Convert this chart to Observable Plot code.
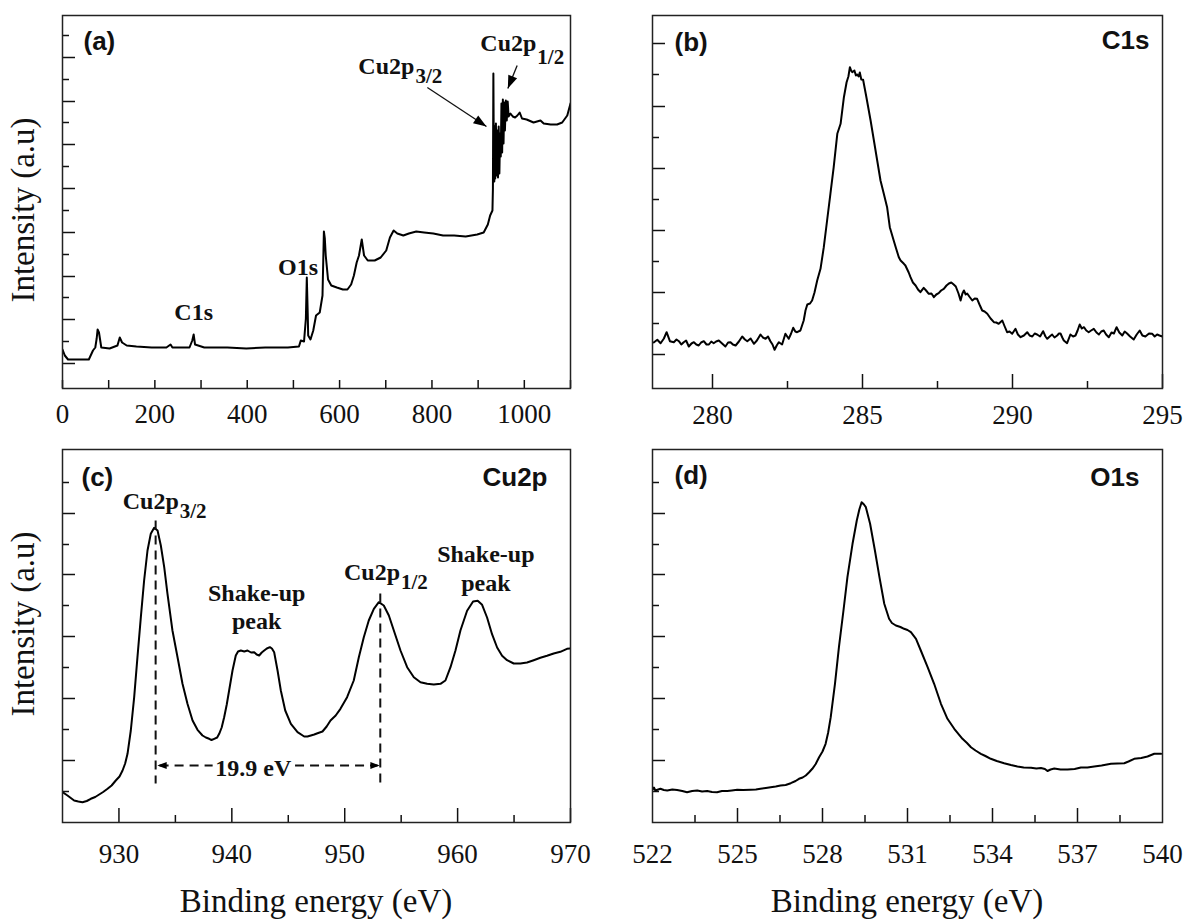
<!DOCTYPE html>
<html>
<head>
<meta charset="utf-8">
<script src="https://cdn.jsdelivr.net/npm/d3@7"></script>
<script src="https://cdn.jsdelivr.net/npm/@observablehq/plot@0.6"></script>
<style>
  html, body { margin: 0; padding: 0; background: #fff; }
  #root { position: relative; width: 1188px; height: 923px; overflow: hidden; background: #fff; }
  .panel { position: absolute; }
  .title { position: absolute; font-family: "Liberation Serif", "Times New Roman", Times, serif; font-size: 33px; line-height: 1; white-space: nowrap; color: #111; }
</style>
</head>
<body>
<div id="root"></div>
<script>
// ================= DATA =================
// Intensity is in arbitrary units (a.u.)

// (a) survey spectrum: [binding energy eV, intensity]
const surveySpectrum = [
  [0,39],[5,33],[12,29],[57,29],[66,38],[71,41],[74,50],[76,59],[79,56],[84,41],[102,40],[119,43],[124,51],[129,46],
  [139,43],[160,42],[193,41],[225,41],[234,44],[238,41],[275,41],[281,48],[284,54],[287,44],[307,41],[357,41],[398,40],
  [439,41],[488,41],[512,42],[516,48],[523,47],[527,70],[529,111],[531,75],[532,53],[537,49],[543,58],[549,73],[557,76],
  [563,93],[566,157],[568,150],[570,133],[575,109],[582,103],[594,101],[607,99],[617,99],[625,104],[631,113],[637,126],
  [642,133],[648,149],[653,133],[661,128],[676,128],[689,131],[701,138],[709,151],[717,158],[725,155],[738,153],[750,155],
  [766,157],[783,156],[803,155],[824,153],[848,153],[873,152],[898,154],[912,156],[921,164],[926,173],[931,178],[932,200],
  [933,315],[934,230],[935,207],[936,262],[937,210],[938.5,265],[940,213],[941.5,258],[943,211],[944.5,262],[946,215],
  [947.5,255],[949,232],[950.5,285],[952,236],[953.5,289],[955,245],[956.5,286],[958,258],[960,288],[962,268],[964,287],
  [966,272],[970,275],[975,272],[980,271],[985,273],[990,276],[995,270],[1005,269],[1020,266],[1035,268],[1042,265],
  [1057,264],[1071,264],[1082,266],[1093,273],[1100,285]
];

// (b) C1s spectrum
const c1sSpectrum = [
  [278.04,46],[278.16,48.7],[278.27,45.3],[278.38,50],[278.47,56.3],[278.58,47.3],[278.71,46.3],[278.80,49],[278.88,47.3],
  [278.96,44],[279.04,46.3],[279.12,48],[279.21,42],[279.30,45],[279.38,46.3],[279.46,44],[279.54,43],[279.62,46],
  [279.71,47.3],[279.80,44],[279.88,44],[279.96,47],[280.04,45.3],[280.12,47],[280.21,48],[280.32,45],[280.43,42],
  [280.52,46],[280.60,46.3],[280.68,44],[280.77,43],[280.88,47],[280.99,52],[281.08,49],[281.16,47.3],[281.27,50],
  [281.38,44.7],[281.48,48],[281.60,54],[281.68,51],[281.77,49.7],[281.85,52],[281.93,47.3],[282.00,44],[282.07,38.7],
  [282.14,43],[282.21,46.3],[282.32,44],[282.43,54.7],[282.54,49.7],[282.62,55],[282.69,60.7],[282.76,57],[282.82,56.3],
  [282.93,58],[283.04,68],[283.10,78],[283.16,84],[283.25,85],[283.32,88],[283.40,96],[283.49,108],[283.60,119.7],
  [283.71,141.3],[283.82,168],[283.93,194.7],[284.04,221.3],[284.16,254.7],[284.27,264.7],[284.38,291.3],[284.47,306.3],
  [284.53,312],[284.58,321.3],[284.62,318],[284.66,316.3],[284.73,318],[284.78,313],[284.82,314],[284.87,312],[284.91,316],
  [284.96,309],[285.02,308.7],[285.13,291.3],[285.27,268],[285.38,248],[285.49,228],[285.60,208],[285.71,194.7],
  [285.82,181.3],[285.91,161.3],[286.04,148],[286.12,140],[286.21,131.3],[286.27,128],[286.38,124.7],[286.43,123],
  [286.54,116],[286.60,111.3],[286.68,106],[286.77,103],[286.85,99],[286.93,96.3],[287.04,100.7],[287.12,98],[287.21,94.7],
  [287.30,95],[287.38,91.3],[287.46,94],[287.54,95.3],[287.62,98],[287.71,99.7],[287.80,103],[287.88,105],[287.96,106],
  [288.04,104],[288.11,102],[288.20,95],[288.27,88],[288.33,95],[288.38,98],[288.44,94],[288.49,95],[288.56,92],[288.66,88],
  [288.74,90],[288.82,89.7],[288.90,84],[288.99,78],[289.07,77],[289.16,74.7],[289.27,70],[289.38,66.3],[289.46,66],
  [289.54,64.7],[289.66,68],[289.74,62],[289.82,56.3],[289.90,57],[289.99,54.7],[290.10,59.7],[290.18,54],[290.27,51.3],
  [290.38,53],[290.49,56.3],[290.57,53],[290.66,52],[290.74,55],[290.82,54],[290.92,52],[291.02,57.3],[291.10,52],
  [291.16,49.7],[291.24,52],[291.32,54],[291.40,51],[291.49,53],[291.55,55],[291.60,55],[291.66,51],[291.71,48],
  [291.82,45.3],[291.93,54],[292.02,52],[292.10,53],[292.17,58],[292.24,64],[292.31,60],[292.38,61.3],[292.46,58],
  [292.54,56.3],[292.62,58],[292.71,59.7],[292.80,56],[292.88,54],[292.96,57],[293.04,58],[293.12,54],[293.21,51.3],
  [293.30,56],[293.38,55],[293.47,61.3],[293.56,56],[293.66,53],[293.74,57],[293.82,55],[293.92,52],[294.04,49],
  [294.14,54],[294.24,58],[294.33,53],[294.43,52],[294.55,55],[294.66,54.7],[294.74,52],[294.82,54],[294.90,53],[295.00,52]
];

// (c) Cu2p spectrum
const cu2pSpectrum = [
  [925.00,30.3],[925.44,27],[926.03,22],[926.40,21],[926.77,20.3],[927.15,21.5],[927.51,23.7],[927.90,25.5],[928.25,28],
  [928.60,30.5],[928.99,33.7],[929.35,37],[929.72,42],[930.05,46],[930.32,52],[930.55,59],[930.76,68.7],[931.05,92],
  [931.35,125.3],[931.64,165.3],[931.94,205.3],[932.23,242],[932.53,272],[932.82,288.7],[933.12,294.7],[933.42,292],
  [933.71,277],[934.01,255.3],[934.30,228.7],[934.74,192],[935.19,165.3],[935.63,138.7],[936.07,118.7],[936.52,102],
  [936.96,92.7],[937.40,87],[937.70,85],[937.99,83.7],[938.20,82.5],[938.44,83.7],[938.70,85],[938.88,88.7],[939.10,95],
  [939.32,105.3],[939.55,118],[939.76,132],[940.06,152],[940.35,167],[940.55,171],[940.80,172],[941.10,171],[941.39,172],
  [941.70,170],[941.98,170.3],[942.20,168],[942.42,167],[942.65,170],[942.87,172],[943.10,174],[943.37,175.3],[943.55,174],
  [943.75,170.3],[944.05,152],[944.34,132],[944.73,112],[945.23,98.7],[945.82,90.3],[946.41,86],[946.70,86],[947.00,87],
  [947.30,88],[947.59,89.3],[948.03,91],[948.40,96],[948.74,102],[949.20,107],[949.62,113.7],[950.21,125.3],[950.80,142],
  [951.25,165.3],[951.69,185.3],[952.13,202],[952.58,213.7],[953.02,220.3],[953.46,217],[953.91,207],[954.35,192],
  [954.94,172],[955.53,155.3],[956.12,145.3],[956.71,140.3],[957.30,138.7],[957.89,138],[958.48,138.7],[958.92,142],
  [959.37,155.3],[959.81,172],[960.25,192],[960.84,211.7],[961.37,221],[961.78,221.7],[962.17,217.7],[962.61,205],
  [963.05,188.3],[963.50,175],[963.94,166.7],[964.38,162.3],[964.97,159],[965.56,159],[966.15,160],[966.74,162.3],
  [967.33,164.7],[967.92,166.7],[968.51,169],[969.10,170.7],[969.69,173.7],[970.00,174]
];

// (d) O1s spectrum
const o1sSpectrum = [
  [522.00,32.7],[522.05,35],[522.10,32],[522.28,33.7],[522.40,32.5],[522.52,32],[522.70,33],[522.87,32.5],[523.05,31.5],
  [523.22,30.3],[523.40,31.5],[523.58,32],[523.75,31],[523.93,31.5],[524.10,30.5],[524.28,30.3],[524.45,31.5],[524.64,31.5],
  [524.80,32],[524.99,32.7],[525.20,32.5],[525.46,32.8],[525.65,33],[525.81,33.7],[526.00,34.5],[526.17,35.3],[526.35,36],
  [526.52,37],[526.70,37.5],[526.88,39.3],[527.05,41.5],[527.17,43.7],[527.30,45],[527.41,47],[527.52,50],[527.64,53.7],
  [527.76,58.5],[527.88,65.3],[528.00,71],[528.11,78.7],[528.20,90],[528.29,105.3],[528.44,138.7],[528.58,175.3],
  [528.74,212],[528.88,245.3],[529.06,278.7],[529.21,302],[529.30,313],[529.38,320.3],[529.45,318.5],[529.53,315.3],
  [529.68,298.7],[529.85,272],[530.01,245.3],[530.18,218.7],[530.35,203.7],[530.45,199.5],[530.59,197],[530.75,195.5],
  [530.88,193.7],[531.00,192.5],[531.12,190.3],[531.30,183.7],[531.47,172],[531.71,155.3],[531.94,138.7],[532.18,118.7],
  [532.41,103.7],[532.65,93.7],[532.94,83.7],[533.10,79.5],[533.24,75.3],[533.40,72],[533.59,68.7],[533.75,66.5],
  [533.94,63.7],[534.15,61.5],[534.41,59.3],[534.65,57.5],[534.88,56],[535.10,55],[535.36,54.7],[535.55,54],[535.71,54.5],
  [535.85,53.5],[535.94,51.5],[536.05,53],[536.18,54],[536.40,53],[536.65,53],[536.90,53.5],[537.12,55],[537.35,55],
  [537.59,56],[537.85,57],[538.18,58.7],[538.40,59],[538.65,59.3],[538.80,61],[539.00,63.7],[539.25,64.5],[539.47,66],
  [539.71,68.7],[539.95,68.7]
];

// Axis domains
const surveyDomain = [0, 1100];
const c1sDomain = [278, 295];
const cu2pDomain = [925, 970];
const o1sDomain = [522, 540];
const intensityDomain = [0, 373];

// Tick values
const surveyXLabels = [0, 200, 400, 600, 800, 1000];
const surveyXMinor = [100, 300, 500, 700, 900, 1100];
const c1sXLabels = [280, 285, 290, 295];
const c1sXMinor = [282.5, 287.5, 292.5];
const cu2pXLabels = [930, 940, 950, 960, 970];
const cu2pXMinor = [935, 945, 955, 965];
const o1sXLabels = [522, 525, 528, 531, 534, 537, 540];
const o1sXMajor = [525, 528, 531, 534, 537];
const o1sXMinor = [523.5, 526.5, 529.5, 532.5, 535.5, 538.5];

const surveyYMajor = [25, 69, 112, 156, 200, 244, 287, 331];
const surveyYMinor = [47, 91, 134, 178, 222, 266, 309, 353];
const c1sYMajor = [34, 96, 158, 220, 282, 345];
const c1sYMinor = [65, 127, 189, 251, 314];
const bottomYMajor = [62, 124, 186, 248, 309];
const bottomYMinor = [31, 93, 155, 217, 278, 340];

// Annotations
const panelLetters = ["(a)", "(b)", "(c)", "(d)"];
const panelNames = ["C1s", "Cu2p", "O1s"];
const surveyPeakLabels = [
  {eV: 284, a: 69, label: "C1s"},
  {eV: 510, a: 114, label: "O1s"}
];
const surveyCuLabels = [
  {eV: 762, a: 315, main: "Cu2p", sub: "3/2", subA: 306},
  {eV: 1026, a: 338, main: "Cu2p", sub: "1/2", subA: 325}
];
const surveyArrows = [
  {x1: 790, y1: 301, x2: 918, y2: 262},
  {x1: 984.5, y1: 323, x2: 964.3, y2: 300}
];
const cu2pPeakLabels = [
  {eV: 935.3, a: 314, main: "Cu2p", sub: "3/2", subA: 305},
  {eV: 954.9, a: 243, main: "Cu2p", sub: "1/2", subA: 234}
];
const shakeUpLabels = [
  {eV: 942.2, a: 222, label: "Shake-up"},
  {eV: 942.2, a: 194, label: "peak"},
  {eV: 962.5, a: 261, label: "Shake-up"},
  {eV: 962.5, a: 232, label: "peak"}
];
const cu2pGuides = [
  {eV: 933.25, top: 302, bottom: 39},
  {eV: 953.15, top: 229, bottom: 34}
];
const splitLevel = 57;
const splitSegments = [{from: 933.6, to: 938.3}, {from: 945.6, to: 952.9}];
const splitTips = [{eV: 933.4, dir: -90}, {eV: 953.1, dir: 90}];
const splitLabel = [{eV: 941.9, a: 47, label: "19.9 eV"}];

// ================= DRAWING =================
const SERIF = '"Liberation Serif","Times New Roman",Times,serif';
const SANS = '"Liberation Sans",Arial,Helvetica,sans-serif';
const root = document.getElementById("root");

// filled arrow-head symbol, tip at the anchor point, pointing up before rotation
const arrowHead = {
  draw(ctx, size) {
    const r = Math.sqrt(size / Math.PI);
    const L = 2.6 * r, w = 0.95 * r;
    ctx.moveTo(0, 0);
    ctx.lineTo(-w, L);
    ctx.lineTo(w, L);
    ctx.closePath();
  }
};

function panel(cfg) {
  const {left, top, width, height, mt, mb, ml, mr, xDomain, data, xLabels, xMajor, xMinor,
         yMajor, yMinor, tickPad, xMajorLen, xMinorLen, marks, letter, name, letterDx, letterDy, nameDx, nameDy} = cfg;
  const frameW = width - ml - mr, frameH = height - mt - mb;
  const tick = {stroke: "#111", strokeWidth: 1.5};
  const txtBold = {fontFamily: SANS, fontWeight: "bold", fontSize: 26, fill: "#111", lineAnchor: "bottom"};
  const allMarks = [
    Plot.ruleX(xMajor, {x: d => d, insetTop: frameH - xMajorLen, ...tick}),
    Plot.ruleX(xMinor, {x: d => d, insetTop: frameH - xMinorLen, ...tick}),
    Plot.ruleY(yMajor, {y: d => d, insetRight: frameW - 13, ...tick}),
    Plot.ruleY(yMinor, {y: d => d, insetRight: frameW - 7, ...tick}),
    Plot.axisX(xLabels, {tickSize: 0, tickPadding: tickPad, tickFormat: d => String(d), label: null,
                         fontSize: 27, fontFamily: SERIF, fill: "#111"}),
    Plot.line(data, {x: d => d[0], y: d => d[1], stroke: "#000", strokeWidth: 2, clip: true}),
    ...marks,
    Plot.text([letter], {text: d => d, frameAnchor: "top-left", textAnchor: "start", dx: letterDx, dy: letterDy, ...txtBold})
  ];
  if (name) allMarks.push(Plot.text([name], {text: d => d, frameAnchor: "top-right", textAnchor: "end", dx: nameDx, dy: nameDy, ...txtBold}));
  allMarks.push(Plot.frame({stroke: "#222", strokeWidth: 1.5}));
  const svg = Plot.plot({
    width, height, marginTop: mt, marginBottom: mb, marginLeft: ml, marginRight: mr,
    x: {domain: xDomain, label: null},
    y: {domain: intensityDomain, axis: null, label: null},
    style: {fontFamily: SERIF, fontSize: "27px", color: "#111", background: "transparent"},
    marks: allMarks
  });
  const div = document.createElement("div");
  div.className = "panel";
  div.style.left = left + "px";
  div.style.top = top + "px";
  div.appendChild(svg);
  root.appendChild(div);
}

const serifBold = {fontFamily: SERIF, fontWeight: "bold", fill: "#111", lineAnchor: "bottom"};
function subscriptLabels(rows) {
  return [
    Plot.text(rows, {x: "eV", y: "a", text: "main", textAnchor: "end", fontSize: 24, ...serifBold}),
    Plot.text(rows, {x: "eV", y: "subA", text: "sub", textAnchor: "start", dx: 1, fontSize: 21, ...serifBold})
  ];
}

// (a) pixel scale factors used only to orient arrow heads
const kxA = 508 / (surveyDomain[1] - surveyDomain[0]);
const kyA = 373 / (intensityDomain[1] - intensityDomain[0]);
const surveyHeads = surveyArrows.map(d => ({
  x: d.x2, y: d.y2,
  angle: Math.atan2((d.x2 - d.x1) * kxA, (d.y2 - d.y1) * kyA) * 180 / Math.PI
}));

panel({
  left: 0, top: 0, width: 594, height: 440, mt: 15, mb: 52, ml: 62, mr: 24,
  xDomain: surveyDomain, data: surveySpectrum, xLabels: surveyXLabels, xMajor: surveyXLabels, xMinor: surveyXMinor,
  yMajor: surveyYMajor, yMinor: surveyYMinor, tickPad: 15, xMajorLen: 8, xMinorLen: 8,
  letter: panelLetters[0], letterDx: 21, letterDy: 34,
  marks: [
    Plot.text(surveyPeakLabels, {x: "eV", y: "a", text: "label", textAnchor: "middle", fontSize: 24, ...serifBold}),
    ...subscriptLabels(surveyCuLabels),
    Plot.link(surveyArrows, {x1: "x1", y1: "y1", x2: "x2", y2: "y2", stroke: "#111", strokeWidth: 1.3}),
    Plot.dot(surveyHeads, {x: "x", y: "y", rotate: "angle", symbol: arrowHead, r: 5, fill: "#000"})
  ]
});

panel({
  left: 594, top: 0, width: 594, height: 440, mt: 15, mb: 52, ml: 58, mr: 26,
  xDomain: c1sDomain, data: c1sSpectrum, xLabels: c1sXLabels, xMajor: c1sXLabels, xMinor: c1sXMinor,
  yMajor: c1sYMajor, yMinor: c1sYMinor, tickPad: 16, xMajorLen: 14, xMinorLen: 7,
  letter: panelLetters[1], letterDx: 22, letterDy: 35, name: panelNames[0], nameDx: -13, nameDy: 33,
  marks: []
});

panel({
  left: 0, top: 440, width: 594, height: 483, mt: 9, mb: 101, ml: 62, mr: 24,
  xDomain: cu2pDomain, data: cu2pSpectrum, xLabels: cu2pXLabels, xMajor: cu2pXLabels, xMinor: cu2pXMinor,
  yMajor: bottomYMajor, yMinor: bottomYMinor, tickPad: 21, xMajorLen: 14, xMinorLen: 7,
  letter: panelLetters[2], letterDx: 19, letterDy: 36, name: panelNames[1], nameDx: -23, nameDy: 36,
  marks: [
    Plot.link(cu2pGuides, {x1: "eV", x2: "eV", y1: "top", y2: "bottom", stroke: "#111", strokeWidth: 2, strokeDasharray: "9,6"}),
    Plot.link(splitSegments, {x1: "from", x2: "to", y1: () => splitLevel, y2: () => splitLevel, stroke: "#111", strokeWidth: 2, strokeDasharray: "9,6"}),
    Plot.dot(splitTips, {x: "eV", y: () => splitLevel, rotate: "dir", symbol: arrowHead, r: 3.6, fill: "#000"}),
    Plot.text(splitLabel, {x: "eV", y: "a", text: "label", textAnchor: "middle", fontSize: 24, ...serifBold}),
    ...subscriptLabels(cu2pPeakLabels),
    Plot.text(shakeUpLabels, {x: "eV", y: "a", text: "label", textAnchor: "middle", fontSize: 24, ...serifBold})
  ]
});

panel({
  left: 594, top: 440, width: 594, height: 483, mt: 9, mb: 101, ml: 58, mr: 26,
  xDomain: o1sDomain, data: o1sSpectrum, xLabels: o1sXLabels, xMajor: o1sXMajor, xMinor: o1sXMinor,
  yMajor: bottomYMajor, yMinor: bottomYMinor, tickPad: 21, xMajorLen: 14, xMinorLen: 7,
  letter: panelLetters[3], letterDx: 22, letterDy: 34, name: panelNames[2], nameDx: -23, nameDy: 36,
  marks: []
});

// Axis titles
function title(text, x, y, rotated) {
  const el = document.createElement("div");
  el.className = "title";
  el.textContent = text;
  el.style.left = x + "px";
  el.style.top = y + "px";
  el.style.transform = rotated ? "translate(-50%,-50%) rotate(-90deg)" : "translateX(-50%)";
  root.appendChild(el);
}
const yTitle = "Intensity (a.u)";
const xTitle = "Binding energy (eV)";
title(yTitle, 23, 210, true);
title(yTitle, 23, 624, true);
title(xTitle, 316, 885, false);
title(xTitle, 907, 885, false);
</script>
</body>
</html>
